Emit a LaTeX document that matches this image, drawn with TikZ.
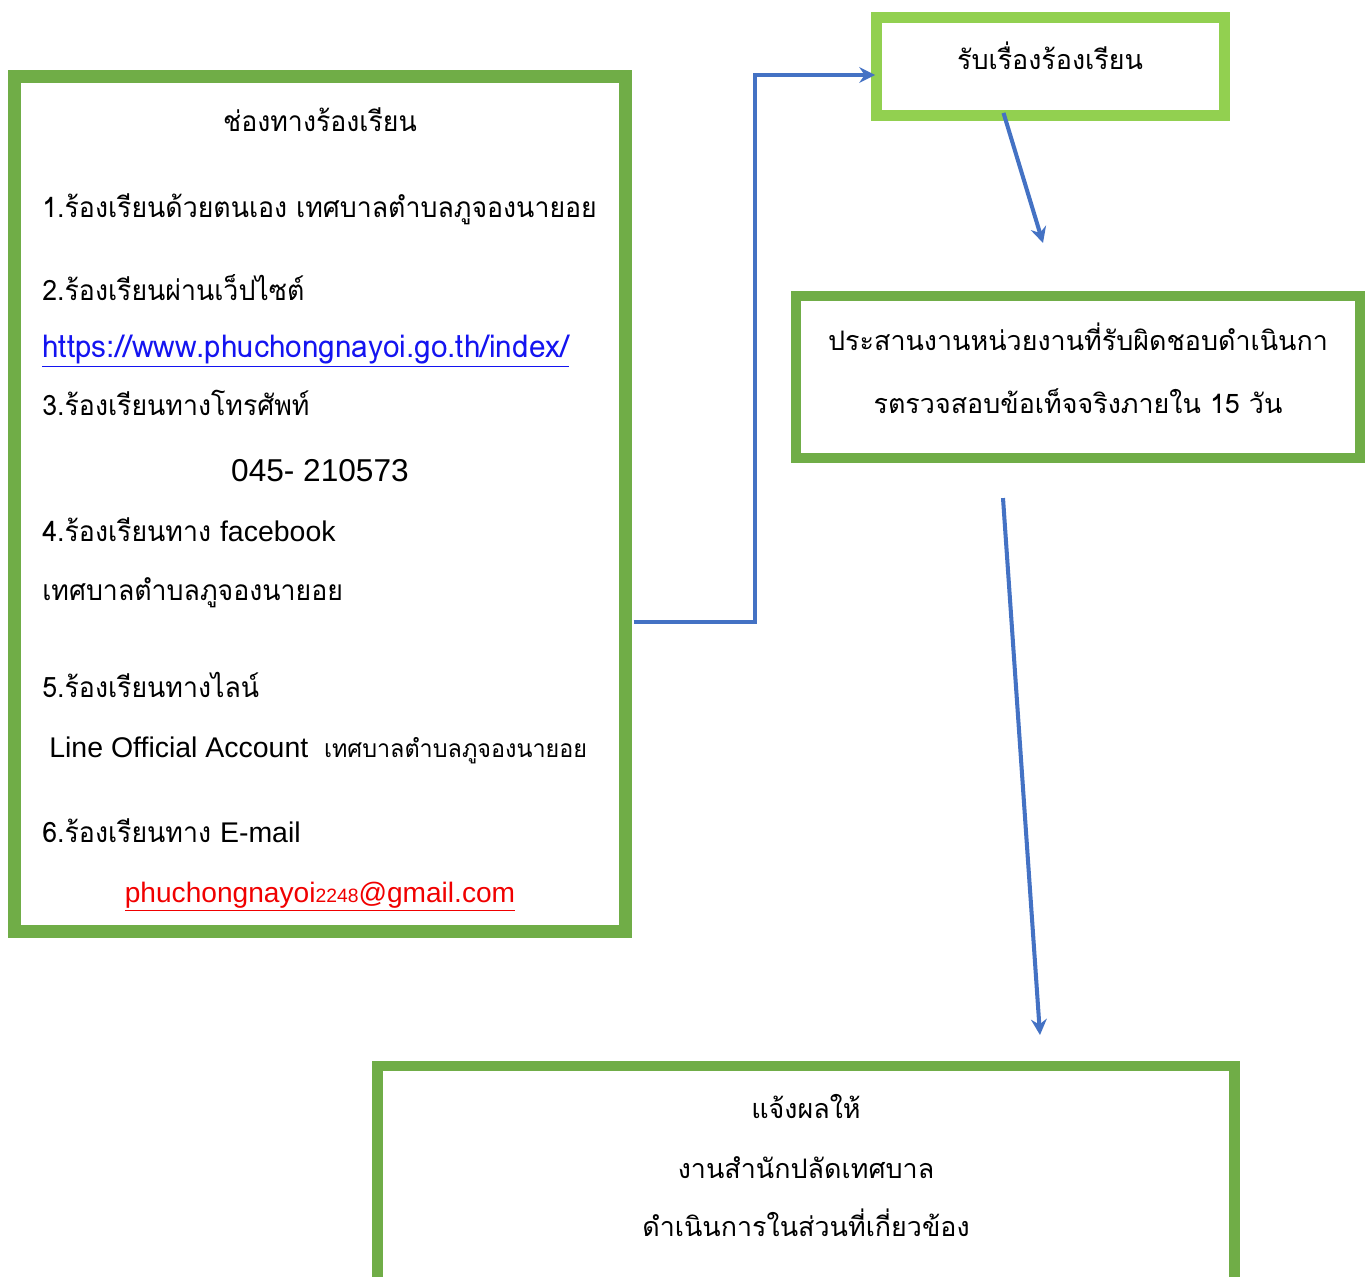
\documentclass[tikz,border=0pt]{standalone}
\usepackage{fontspec}
\setmainfont[Script=Thai]{Loma}
\newfontfamily\thainarrow[Script=Thai,FakeStretch=0.95]{Loma}
\newfontfamily\arial{Liberation Sans}
\usetikzlibrary{calc,positioning,arrows.meta}

\definecolor{boxgreen}{RGB}{112,173,71}
\definecolor{lightgreen}{RGB}{146,208,80}
\definecolor{flowblue}{RGB}{68,114,196}
\definecolor{linkblue}{RGB}{20,20,240}
\definecolor{mailred}{RGB}{240,0,0}

\newcommand{\latinpart}[1]{{\arial\fontsize{16.2}{16.2}\selectfont #1}}

\tikzset{
  frame/.style={draw=boxgreen, line width=7.4pt, inner sep=0pt},
  flow/.style={draw=flowblue, line width=2.3pt, ->},
  txt/.style={anchor=base west, inner sep=0pt, font=\thainarrow\fontsize{16}{16}\selectfont},
  ctxt/.style={anchor=base, inner sep=0pt, font=\fontsize{15.3}{15.3}\selectfont}
}

\begin{document}
\begin{tikzpicture}[x=0.02cm, y=-0.02cm, >={Stealth[length=9pt,width=9pt,inset=3pt]}]
\useasboundingbox (0,0) rectangle (1372,1277);
\clip (0,0) rectangle (1372,1277);

% Boxes
\node[frame, minimum width=12.21cm, minimum height=17.12cm] (chan) at (320,504) {};
\node[frame, draw=lightgreen, line width=6.2pt, minimum width=6.96cm, minimum height=1.96cm] (recv) at (1050.5,66.5) {};
\node[frame, line width=5.8pt, minimum width=11.28cm, minimum height=3.24cm] (coord) at (1078,377) {};
\node[frame, line width=6.2pt, minimum width=17.14cm, minimum height=5.2cm] (report) at (806,1196) {};

% Complaint channels
\node[txt, anchor=base] (t0) at (320,132) {ช่องทางร้องเรียน};
\node[txt] (t1) at (42,217) {1.ร้องเรียนด้วยตนเอง เทศบาลตำบลภูจองนายอย};
\node[txt] (t2) at (42,300) {2.ร้องเรียนผ่านเว็ปไซต์};
\node[txt, text=linkblue, font=\thainarrow\fontsize{17.8}{17.8}\selectfont] (t2a) at (42,357) {\underline{https://www.phuchongnayoi.go.th/index/}};
\node[txt] (t3) at (42,415) {3.ร้องเรียนทางโทรศัพท์};
\node[txt, anchor=base, font=\arial\fontsize{18}{18}\selectfont] (t3a) at (320,481) {045- 210573};
\node[txt] (t4) at (42,541) {4.ร้องเรียนทาง \latinpart{facebook}};
\node[txt] (t4a) at (42,600) {เทศบาลตำบลภูจองนายอย};
\node[txt] (t5) at (42,697) {5.ร้องเรียนทางไลน์};
\node[txt, font=\thainarrow\fontsize{14}{14}\selectfont] (t5a) at (49,757) {\latinpart{Line Official Account}\ \ เทศบาลตำบลภูจองนายอย};
\node[txt] (t6) at (42,842) {6.ร้องเรียนทาง \latinpart{E-mail}};
\node[txt, anchor=base, text=mailred, font=\arial\fontsize{16}{16}\selectfont] (t6a) at (320,902)
  {\underline{phuchongnayoi{\fontsize{11}{11}\selectfont 2248}@gmail.com}};

% Steps
\node[ctxt] (r0) at (1050,70) {รับเรื่องร้องเรียน};
\node[ctxt] (c1) at (1078,350) {ประสานงานหน่วยงานที่รับผิดชอบดำเนินกา};
\node[ctxt] (c2) at (1078,413) {รตรวจสอบข้อเท็จจริงภายใน 15 วัน};
\node[ctxt] (p1) at (806,1118) {แจ้งผลให้};
\node[ctxt] (p2) at (806,1178) {งานสำนักปลัดเทศบาล};
\node[ctxt] (p3) at (806,1236) {ดำเนินการในส่วนที่เกี่ยวข้อง};

% Connectors
\coordinate (out1) at ($(chan.east)+(2,118)$);
\coordinate (in1) at ($(recv.west)+(4,8.5)$);
\coordinate (out2) at ($(recv.south)+(-47,-8)$);
\coordinate (end2) at (1043,243);
\coordinate (out3) at ($(coord.south)+(-75,35)$);
\coordinate (end3) at (1040,1035);

\draw[flow] (out1) -- ++(121,0) |- (in1);
\draw[flow] (out2) -- (end2);
\draw[flow] (out3) -- (end3);
\end{tikzpicture}
\end{document}
